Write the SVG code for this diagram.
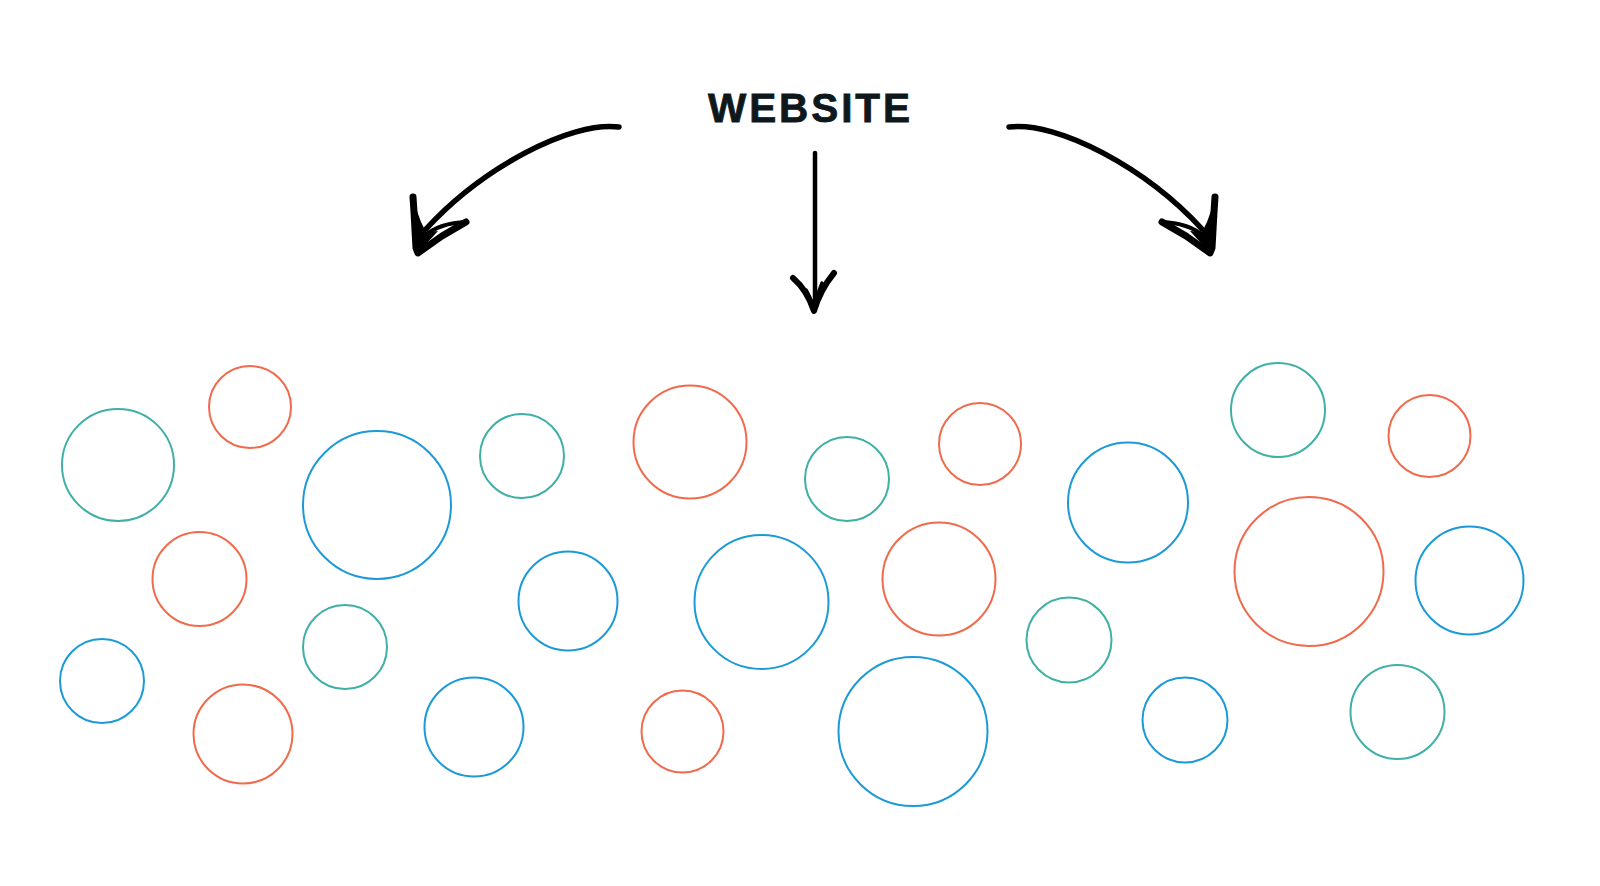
<svg xmlns="http://www.w3.org/2000/svg" width="1600" height="886" viewBox="0 0 1600 886">
<style>
.c{fill:none;stroke-width:2}
.o{stroke:#F06A4C}
.t{stroke:#3FB0A6}
.b{stroke:#1C9AD8}
.ln{fill:none;stroke:#000;stroke-linecap:round;stroke-linejoin:round}
.title{font-family:"Liberation Sans",Arial,sans-serif;font-weight:700;font-size:40.5px;fill:#0E181B;stroke:#0E181B;stroke-width:0.8}
</style>
<rect width="1600" height="886" fill="#fff"/>
<g id="title"><text class="title" x="708" y="121.5" textLength="202" lengthAdjust="spacing">WEBSITE</text></g>
<g id="connectors">
<g id="arrow-left">
<path class="ln" stroke-width="5.5" d="M619,127 C570,121 482,168 426,229"/>
<path class="ln" stroke-width="7" d="M413,197 L414,212 L416,248 L418,253 L442,236 L466,222"/>
<path d="M413,200 L421,222 L426,232 L438,231 L418,253 L415,246 Z" fill="#000"/>
<path class="ln" stroke-width="4" d="M424,236 Q440,223 466,222"/>
</g>
<g id="arrow-mid">
<path class="ln" stroke-width="4.5" d="M815,153 L815,302"/>
<path class="ln" stroke-width="6" d="M793,278 Q807,290 814,311 Q820,290 834,273"/>
<path class="ln" stroke-width="3.5" d="M806,290 Q812,300 814,311 M822,283 Q816,298 814,311"/>
</g>
<g id="arrow-right" transform="translate(1628,0) scale(-1,1)">
<path class="ln" stroke-width="5.5" d="M619,127 C570,121 482,168 426,229"/>
<path class="ln" stroke-width="7" d="M413,197 L414,212 L416,248 L418,253 L442,236 L466,222"/>
<path d="M413,200 L421,222 L426,232 L438,231 L418,253 L415,246 Z" fill="#000"/>
<path class="ln" stroke-width="4" d="M424,236 Q440,223 466,222"/>
</g>
</g>
<g id="circles">
<circle id="n1" class="c t" cx="118" cy="465" r="56"/>
<circle id="n2" class="c o" cx="250" cy="407" r="41"/>
<circle id="n3" class="c b" cx="377" cy="505" r="74"/>
<circle id="n4" class="c t" cx="522" cy="456" r="42"/>
<circle id="n5" class="c o" cx="690" cy="442" r="56.5"/>
<circle id="n6" class="c t" cx="847" cy="479" r="42"/>
<circle id="n7" class="c o" cx="980" cy="444" r="41"/>
<circle id="n8" class="c b" cx="1128" cy="502.5" r="60"/>
<circle id="n9" class="c t" cx="1278" cy="410" r="47"/>
<circle id="n10" class="c o" cx="1429.5" cy="436" r="41"/>
<circle id="n11" class="c o" cx="199.5" cy="579" r="47"/>
<circle id="n12" class="c b" cx="568" cy="601" r="49.5"/>
<circle id="n13" class="c b" cx="761.5" cy="602" r="67"/>
<circle id="n14" class="c o" cx="939" cy="579" r="56.5"/>
<circle id="n15" class="c o" cx="1309" cy="571.5" r="74.5"/>
<circle id="n16" class="c b" cx="1469.5" cy="580.5" r="54"/>
<circle id="n17" class="c b" cx="102" cy="681" r="42"/>
<circle id="n18" class="c t" cx="345" cy="647" r="42"/>
<circle id="n19" class="c t" cx="1069" cy="640" r="42.5"/>
<circle id="n20" class="c o" cx="243" cy="734" r="49.5"/>
<circle id="n21" class="c b" cx="474" cy="727" r="49.5"/>
<circle id="n22" class="c o" cx="682.5" cy="731.5" r="41"/>
<circle id="n23" class="c b" cx="913" cy="731.5" r="74.5"/>
<circle id="n24" class="c b" cx="1185" cy="720" r="42.5"/>
<circle id="n25" class="c t" cx="1397.5" cy="712" r="47"/>
</g>
</svg>
